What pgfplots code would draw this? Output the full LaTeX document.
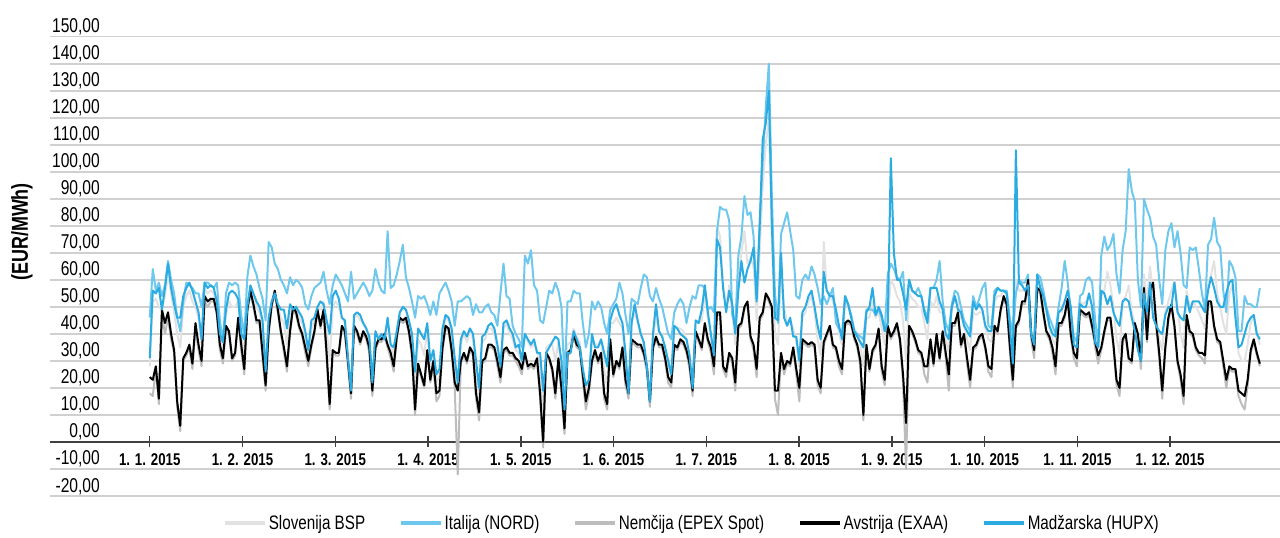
\documentclass[border=0pt]{standalone}
\usepackage{fontspec}
\setmainfont{Liberation Sans}[FakeStretch=0.78]
\usepackage{pgfplots}
\usepackage{pgfplotstable}
\pgfplotsset{compat=1.18}

\definecolor{siC}{HTML}{E2E2E2}
\definecolor{itC}{HTML}{6EC8EE}
\definecolor{deC}{HTML}{BDBDBD}
\definecolor{atC}{HTML}{000000}
\definecolor{huC}{HTML}{2AABE2}
\definecolor{gridC}{HTML}{D0D0D0}
\definecolor{axC}{HTML}{404040}

% daily prices 2015, one value per day (EUR/MWh)
\pgfplotstableread[row sep=\\]{v\\
28\\52\\53\\50\\49\\54\\62\\ 55\\48\\40\\35\\50\\54\\56\\ 52\\50\\46\\36\\57\\55\\56\\ 55\\51\\40\\35\\47\\52\\50\\
50\\52\\40\\33\\50\\57\\54\\ 50\\48\\42\\25\\45\\52\\55\\ 50\\46\\44\\36\\48\\50\\49\\ 46\\44\\39\\33\\42\\45\\50\\
49\\52\\42\\30\\50\\52\\50\\ 46\\44\\32\\20\\46\\47\\45\\ 44\\42\\38\\22\\40\\39\\40\\ 40\\44\\36\\32\\41\\48\\49\\
49\\44\\37\\20\\38\\36\\32\\ 42\\28\\33\\22\\24\\40\\46\\ 45\\40\\28\\20\\36\\40\\37\\ 41\\38\\26\\16\\37\\38\\42\\
42\\40\\34\\26\\42\\44\\40\\ 38\\34\\33\\29\\40\\37\\35\\ 36\\34\\28\\12\\35\\36\\36\\ 30\\37\\28\\10\\36\\37\\42\\
39\\37\\28\\18\\22\\37\\36\\ 36\\37\\27\\20\\44\\44\\46\\ 44\\42\\30\\20\\44\\48\\44\\ 40\\36\\29\\16\\38\\47\\40\\
40\\34\\28\\24\\42\\42\\42\\ 41\\38\\32\\22\\45\\44\\45\\ 55\\46\\40\\32\\80\\76\\58\\ 50\\58\\48\\36\\60\\70\\78\\
66\\68\\65\\45\\70\\95\\110\\ 120\\75\\40\\36\\62\\50\\44\\ 45\\42\\37\\28\\46\\48\\52\\ 54\\48\\38\\32\\74\\56\\55\\
52\\48\\40\\36\\52\\50\\47\\ 42\\40\\36\\28\\46\\46\\52\\ 46\\48\\42\\36\\46\\60\\58\\ 54\\52\\45\\30\\55\\53\\52\\
50\\50\\44\\38\\52\\50\\54\\ 48\\48\\38\\33\\50\\52\\52\\ 46\\44\\38\\34\\48\\47\\48\\ 48\\42\\38\\37\\52\\54\\54\\
56\\54\\42\\30\\60\\56\\56\\ 56\\60\\42\\36\\60\\58\\52\\ 48\\42\\38\\36\\48\\48\\52\\ 56\\48\\36\\34\\52\\51\\52\\
55\\50\\40\\35\\54\\56\\63\\ 58\\50\\38\\33\\52\\54\\58\\ 48\\44\\38\\33\\62\\52\\65\\ 55\\46\\38\\34\\48\\52\\56\\
60\\50\\40\\35\\56\\50\\52\\ 50\\48\\45\\42\\58\\62\\67\\ 55\\50\\44\\40\\55\\58\\48\\ 33\\30\\30\\36\\44\\47\\40\\
36\\
}\tabSI

\pgfplotstableread[row sep=\\]{v\\
46\\64\\56\\59\\54\\58\\67\\ 60\\55\\46\\41\\52\\59\\58\\ 57\\55\\55\\50\\59\\59\\58\\ 57\\59\\45\\37\\55\\59\\58\\
59\\58\\47\\39\\61\\69\\65\\ 62\\57\\53\\45\\74\\72\\66\\ 64\\60\\58\\55\\61\\58\\60\\ 59\\57\\51\\49\\54\\57\\58\\
59\\63\\56\\51\\58\\62\\60\\ 58\\55\\52\\63\\53\\55\\57\\ 59\\57\\54\\56\\64\\59\\56\\ 55\\78\\57\\58\\62\\67\\73\\
61\\57\\52\\46\\54\\53\\54\\ 51\\47\\52\\47\\55\\57\\59\\ 56\\52\\43\\52\\52\\53\\54\\ 53\\47\\51\\48\\48\\50\\51\\
48\\47\\43\\55\\66\\54\\53\\ 43\\40\\38\\35\\69\\66\\71\\ 58\\56\\45\\44\\50\\56\\55\\ 59\\56\\50\\22\\52\\52\\56\\
55\\55\\44\\35\\40\\52\\49\\ 52\\50\\44\\40\\49\\51\\53\\ 59\\55\\47\\40\\53\\52\\51\\ 57\\62\\61\\54\\52\\57\\53\\
50\\45\\40\\38\\48\\51\\53\\ 51\\44\\50\\54\\53\\58\\58\\ 57\\49\\50\\48\\78\\87\\86\\ 86\\82\\47\\43\\69\\76\\91\\
84\\85\\76\\53\\81\\104\\124\\ 140\\90\\55\\44\\77\\81\\85\\ 78\\71\\54\\53\\60\\62\\60\\ 65\\62\\57\\51\\54\\51\\54\\
57\\44\\42\\40\\54\\51\\47\\ 41\\40\\39\\38\\49\\49\\49\\ 47\\49\\46\\41\\62\\66\\64\\ 61\\60\\63\\45\\60\\56\\55\\
57\\54\\49\\46\\57\\57\\60\\ 67\\52\\44\\41\\51\\56\\55\\ 50\\45\\43\\41\\54\\50\\53\\ 57\\59\\43\\42\\56\\57\\56\\
56\\56\\46\\40\\55\\60\\59\\ 59\\62\\40\\38\\62\\61\\56\\ 50\\46\\43\\40\\50\\57\\67\\ 59\\48\\39\\37\\54\\55\\60\\
61\\59\\45\\36\\69\\76\\71\\ 73\\77\\62\\55\\71\\78\\101\\ 93\\89\\60\\50\\90\\86\\83\\ 76\\73\\60\\51\\71\\78\\81\\
72\\78\\70\\58\\57\\72\\71\\ 72\\64\\55\\49\\73\\75\\83\\ 74\\72\\56\\48\\67\\65\\61\\ 41\\41\\54\\51\\51\\50\\50\\
57\\
}\tabIT

\pgfplotstableread[row sep=\\]{v\\
18\\17\\27\\14\\47\\40\\46\\ 38\\33\\13\\4\\30\\32\\35\\ 27\\42\\34\\28\\52\\50\\52\\ 52\\47\\34\\29\\42\\40\\30\\
32\\45\\34\\25\\48\\55\\50\\ 44\\44\\31\\19\\40\\50\\55\\ 48\\40\\33\\26\\40\\49\\47\\ 42\\39\\33\\28\\35\\40\\48\\
42\\48\\31\\12\\33\\32\\32\\ 42\\40\\28\\16\\42\\40\\36\\ 40\\38\\33\\17\\34\\37\\37\\ 39\\35\\31\\26\\38\\45\\44\\
45\\40\\31\\10\\28\\24\\20\\ 33\\22\\28\\15\\17\\34\\42\\ 41\\33\\20\\-12\\29\\32\\29\\ 34\\32\\16\\8\\29\\30\\35\\
35\\34\\28\\22\\33\\34\\32\\ 32\\30\\28\\25\\32\\27\\28\\ 27\\30\\16\\-2\\32\\30\\26\\ 16\\30\\18\\3\\32\\33\\39\\
35\\34\\23\\12\\18\\29\\33\\ 29\\32\\16\\12\\37\\24\\29\\ 27\\34\\21\\16\\37\\36\\35\\ 35\\32\\26\\13\\34\\38\\35\\
35\\30\\22\\20\\35\\34\\37\\ 36\\33\\27\\17\\40\\37\\34\\ 43\\37\\33\\25\\47\\47\\27\\ 24\\32\\29\\19\\42\\43\\49\\
51\\38\\34\\24\\45\\47\\54\\ 52\\49\\16\\10\\32\\25\\29\\ 28\\34\\25\\15\\37\\36\\35\\ 36\\35\\21\\18\\36\\39\\42\\
35\\34\\28\\25\\43\\44\\43\\ 38\\35\\28\\8\\35\\26\\33\\ 35\\41\\26\\21\\42\\38\\40\\ 43\\37\\22\\-10\\42\\40\\37\\
33\\32\\25\\22\\37\\28\\39\\ 30\\40\\31\\19\\43\\43\\47\\ 35\\39\\29\\20\\34\\35\\38\\ 39\\34\\26\\24\\42\\40\\48\\
53\\50\\34\\20\\42\\44\\51\\ 51\\59\\38\\31\\56\\55\\47\\ 40\\38\\33\\25\\43\\43\\46\\ 52\\39\\31\\28\\48\\47\\46\\
47\\42\\35\\29\\34\\40\\45\\ 45\\35\\21\\17\\37\\39\\30\\ 29\\43\\38\\27\\56\\37\\55\\ 58\\43\\31\\16\\34\\45\\50\\
42\\29\\23\\14\\46\\40\\39\\ 34\\32\\31\\29\\51\\51\\42\\ 37\\36\\28\\20\\27\\26\\26\\ 17\\14\\12\\21\\33\\37\\32\\
28\\
}\tabDE

\pgfplotstableread[row sep=\\]{v\\
24\\23\\28\\16\\49\\44\\48\\ 40\\34\\15\\6\\31\\33\\36\\ 29\\44\\36\\30\\54\\52\\53\\ 53\\48\\36\\31\\43\\41\\31\\
33\\46\\36\\27\\49\\56\\51\\ 45\\45\\33\\21\\41\\51\\56\\ 49\\41\\35\\28\\41\\50\\48\\ 43\\40\\35\\30\\36\\41\\49\\
43\\49\\33\\14\\34\\33\\33\\ 43\\41\\30\\18\\43\\41\\37\\ 41\\39\\35\\19\\35\\38\\38\\ 40\\36\\33\\28\\39\\46\\45\\
46\\41\\33\\12\\29\\25\\21\\ 34\\23\\30\\18\\19\\35\\43\\ 42\\34\\22\\19\\30\\33\\30\\ 35\\33\\18\\11\\30\\31\\36\\
36\\35\\30\\24\\34\\35\\33\\ 33\\31\\30\\27\\33\\28\\29\\ 28\\31\\18\\0\\33\\31\\27\\ 18\\31\\20\\5\\33\\34\\40\\
36\\35\\25\\15\\20\\30\\34\\ 30\\33\\18\\14\\38\\25\\30\\ 28\\35\\23\\18\\38\\37\\36\\ 36\\33\\28\\15\\35\\39\\36\\
36\\31\\24\\22\\36\\35\\38\\ 37\\34\\29\\19\\41\\38\\35\\ 44\\38\\35\\28\\48\\48\\28\\ 26\\33\\31\\22\\43\\44\\50\\
52\\39\\36\\27\\46\\48\\55\\ 53\\50\\19\\19\\33\\27\\30\\ 29\\35\\27\\20\\38\\37\\36\\ 37\\36\\23\\20\\37\\40\\43\\
36\\35\\30\\27\\44\\45\\44\\ 39\\36\\30\\10\\36\\27\\34\\ 36\\42\\28\\23\\43\\39\\41\\ 44\\38\\25\\7\\43\\41\\38\\
34\\33\\28\\28\\38\\29\\40\\ 31\\41\\33\\25\\44\\44\\48\\ 36\\40\\31\\23\\35\\36\\39\\ 40\\35\\28\\27\\43\\41\\49\\
54\\51\\36\\23\\43\\45\\52\\ 52\\60\\40\\34\\57\\56\\48\\ 41\\39\\35\\28\\44\\44\\47\\ 53\\40\\33\\31\\49\\48\\47\\
48\\43\\37\\32\\35\\41\\46\\ 46\\36\\23\\20\\38\\40\\31\\ 30\\44\\40\\30\\57\\38\\56\\ 59\\44\\33\\19\\35\\46\\51\\
43\\30\\25\\17\\47\\41\\40\\ 35\\33\\33\\32\\52\\52\\43\\ 38\\37\\30\\23\\28\\27\\27\\ 19\\18\\17\\23\\34\\38\\33\\
29\\
}\tabAT

\pgfplotstableread[row sep=\\]{v\\
31\\56\\55\\57\\49\\57\\66\\ 57\\51\\46\\46\\54\\57\\59\\ 56\\52\\48\\38\\59\\57\\58\\ 57\\52\\40\\37\\49\\55\\56\\
55\\53\\40\\38\\50\\58\\55\\ 52\\50\\45\\26\\46\\52\\55\\ 51\\49\\49\\42\\51\\49\\50\\ 48\\46\\41\\34\\45\\46\\50\\
52\\51\\45\\40\\54\\56\\53\\ 46\\45\\31\\19\\47\\48\\47\\ 44\\42\\39\\22\\41\\38\\40\\ 38\\46\\36\\35\\41\\48\\50\\
49\\45\\40\\26\\42\\40\\38\\ 44\\30\\34\\25\\27\\42\\47\\ 46\\42\\31\\22\\38\\41\\39\\ 42\\40\\30\\20\\39\\40\\43\\
44\\42\\36\\28\\44\\45\\42\\ 40\\35\\36\\30\\40\\38\\36\\ 38\\33\\33\\19\\33\\35\\37\\ 39\\38\\30\\12\\33\\33\\41\\
38\\35\\27\\21\\23\\40\\35\\ 35\\38\\33\\28\\45\\49\\51\\ 47\\44\\33\\18\\44\\51\\45\\ 40\\37\\28\\15\\40\\51\\41\\
39\\35\\30\\25\\43\\42\\40\\ 39\\38\\32\\20\\45\\44\\49\\ 58\\48\\40\\32\\75\\72\\57\\ 48\\56\\51\\40\\56\\67\\59\\
64\\67\\72\\52\\80\\112\\118\\ 130\\80\\46\\45\\70\\46\\43\\ 46\\39\\39\\30\\48\\50\\54\\ 56\\50\\43\\38\\63\\56\\54\\
54\\49\\43\\38\\54\\51\\46\\ 41\\39\\37\\35\\48\\50\\57\\ 47\\50\\47\\41\\44\\105\\70\\ 60\\60\\55\\49\\60\\56\\55\\
54\\54\\48\\44\\57\\57\\57\\ 52\\49\\40\\38\\50\\54\\49\\ 48\\43\\41\\39\\52\\49\\51\\ 49\\43\\41\\41\\54\\57\\56\\
56\\55\\43\\29\\108\\59\\58\\ 56\\58\\40\\36\\62\\57\\54\\ 49\\43\\40\\39\\48\\49\\52\\ 56\\50\\36\\35\\51\\50\\50\\
55\\50\\37\\35\\56\\55\\51\\ 54\\48\\45\\43\\52\\53\\52\\ 46\\41\\34\\30\\55\\48\\59\\ 46\\43\\41\\40\\47\\50\\50\\
59\\48\\46\\45\\54\\48\\52\\ 52\\52\\50\\48\\56\\61\\57\\ 52\\50\\50\\55\\59\\60\\46\\ 35\\36\\40\\44\\46\\47\\40\\
38\\
}\tabHU

\begin{document}
\begin{tikzpicture}
\begin{axis}[
  scale only axis,
  width=1230pt, height=459.3pt,
  xmin=-32.7, xmax=370.6,
  ymin=-20, ymax=150,
  axis x line*=middle,
  axis y line*=left,
  y axis line style={draw=none},
  x axis line style={axC, line width=2.5pt},
  ytick={-20,-10,...,150},
  ymajorgrids,
  grid style={gridC, line width=1.6pt},
  ytick style={draw=none},
  ytick align=inside,
  xtick={0,30.417,60.833,91.25,121.667,152.083,182.5,212.917,243.333,273.75,304.167,334.583},
  xticklabels={1. 1. 2015,1. 2. 2015,1. 3. 2015,1. 4. 2015,1. 5. 2015,1. 6. 2015,1. 7. 2015,1. 8. 2015,1. 9. 2015,1. 10. 2015,1. 11. 2015,1. 12. 2015},
  xtick align=center,
  major tick length=11pt,
  xtick style={axC, line width=1.5pt},
  xticklabel style={font=\bfseries\fontsize{17}{19}\selectfont, inner sep=0pt, yshift=-6pt},
  yticklabel style={anchor=base east, inner sep=0pt, xshift=50pt, yshift=4pt, font=\fontsize{20}{22}\selectfont},
  /pgf/number format/fixed,
  /pgf/number format/fixed zerofill,
  /pgf/number format/precision=2,
  /pgf/number format/use comma,
  /pgf/number format/1000 sep={},
  /pgf/number format/assume math mode=true,
  ylabel={(EUR/MWh)},
  ylabel style={font=\bfseries\fontsize{23}{25}\selectfont, at={(axis description cs:-0.0228,0.575)}, anchor=center},
  legend columns=-1,
  legend style={draw=none, fill=none, at={(axis description cs:0.522,0)}, anchor=north, yshift=-15pt,
    font=\fontsize{19.5}{21}\selectfont, /tikz/every even column/.append style={column sep=32pt}},
  legend image code/.code={\draw[#1, line width=3.5pt] (0pt,0pt) -- (40pt,0pt);},
  every axis plot/.append style={line width=2pt, line join=round, mark=none},
]
\addplot[siC] table[x expr=\coordindex, y=v] {\tabSI};
\addplot[itC] table[x expr=\coordindex, y=v] {\tabIT};
\addplot[deC] table[x expr=\coordindex, y=v] {\tabDE};
\addplot[atC] table[x expr=\coordindex, y=v] {\tabAT};
\addplot[huC] table[x expr=\coordindex, y=v] {\tabHU};
\legend{Slovenija BSP, Italija (NORD), Nemčija (EPEX Spot), Avstrija (EXAA), Madžarska (HUPX)}
\end{axis}
\pgfresetboundingbox
\path[use as bounding box] (current axis.south west) ++(-50pt,-42pt) rectangle ++(1280pt,538pt);
\end{tikzpicture}
\end{document}
